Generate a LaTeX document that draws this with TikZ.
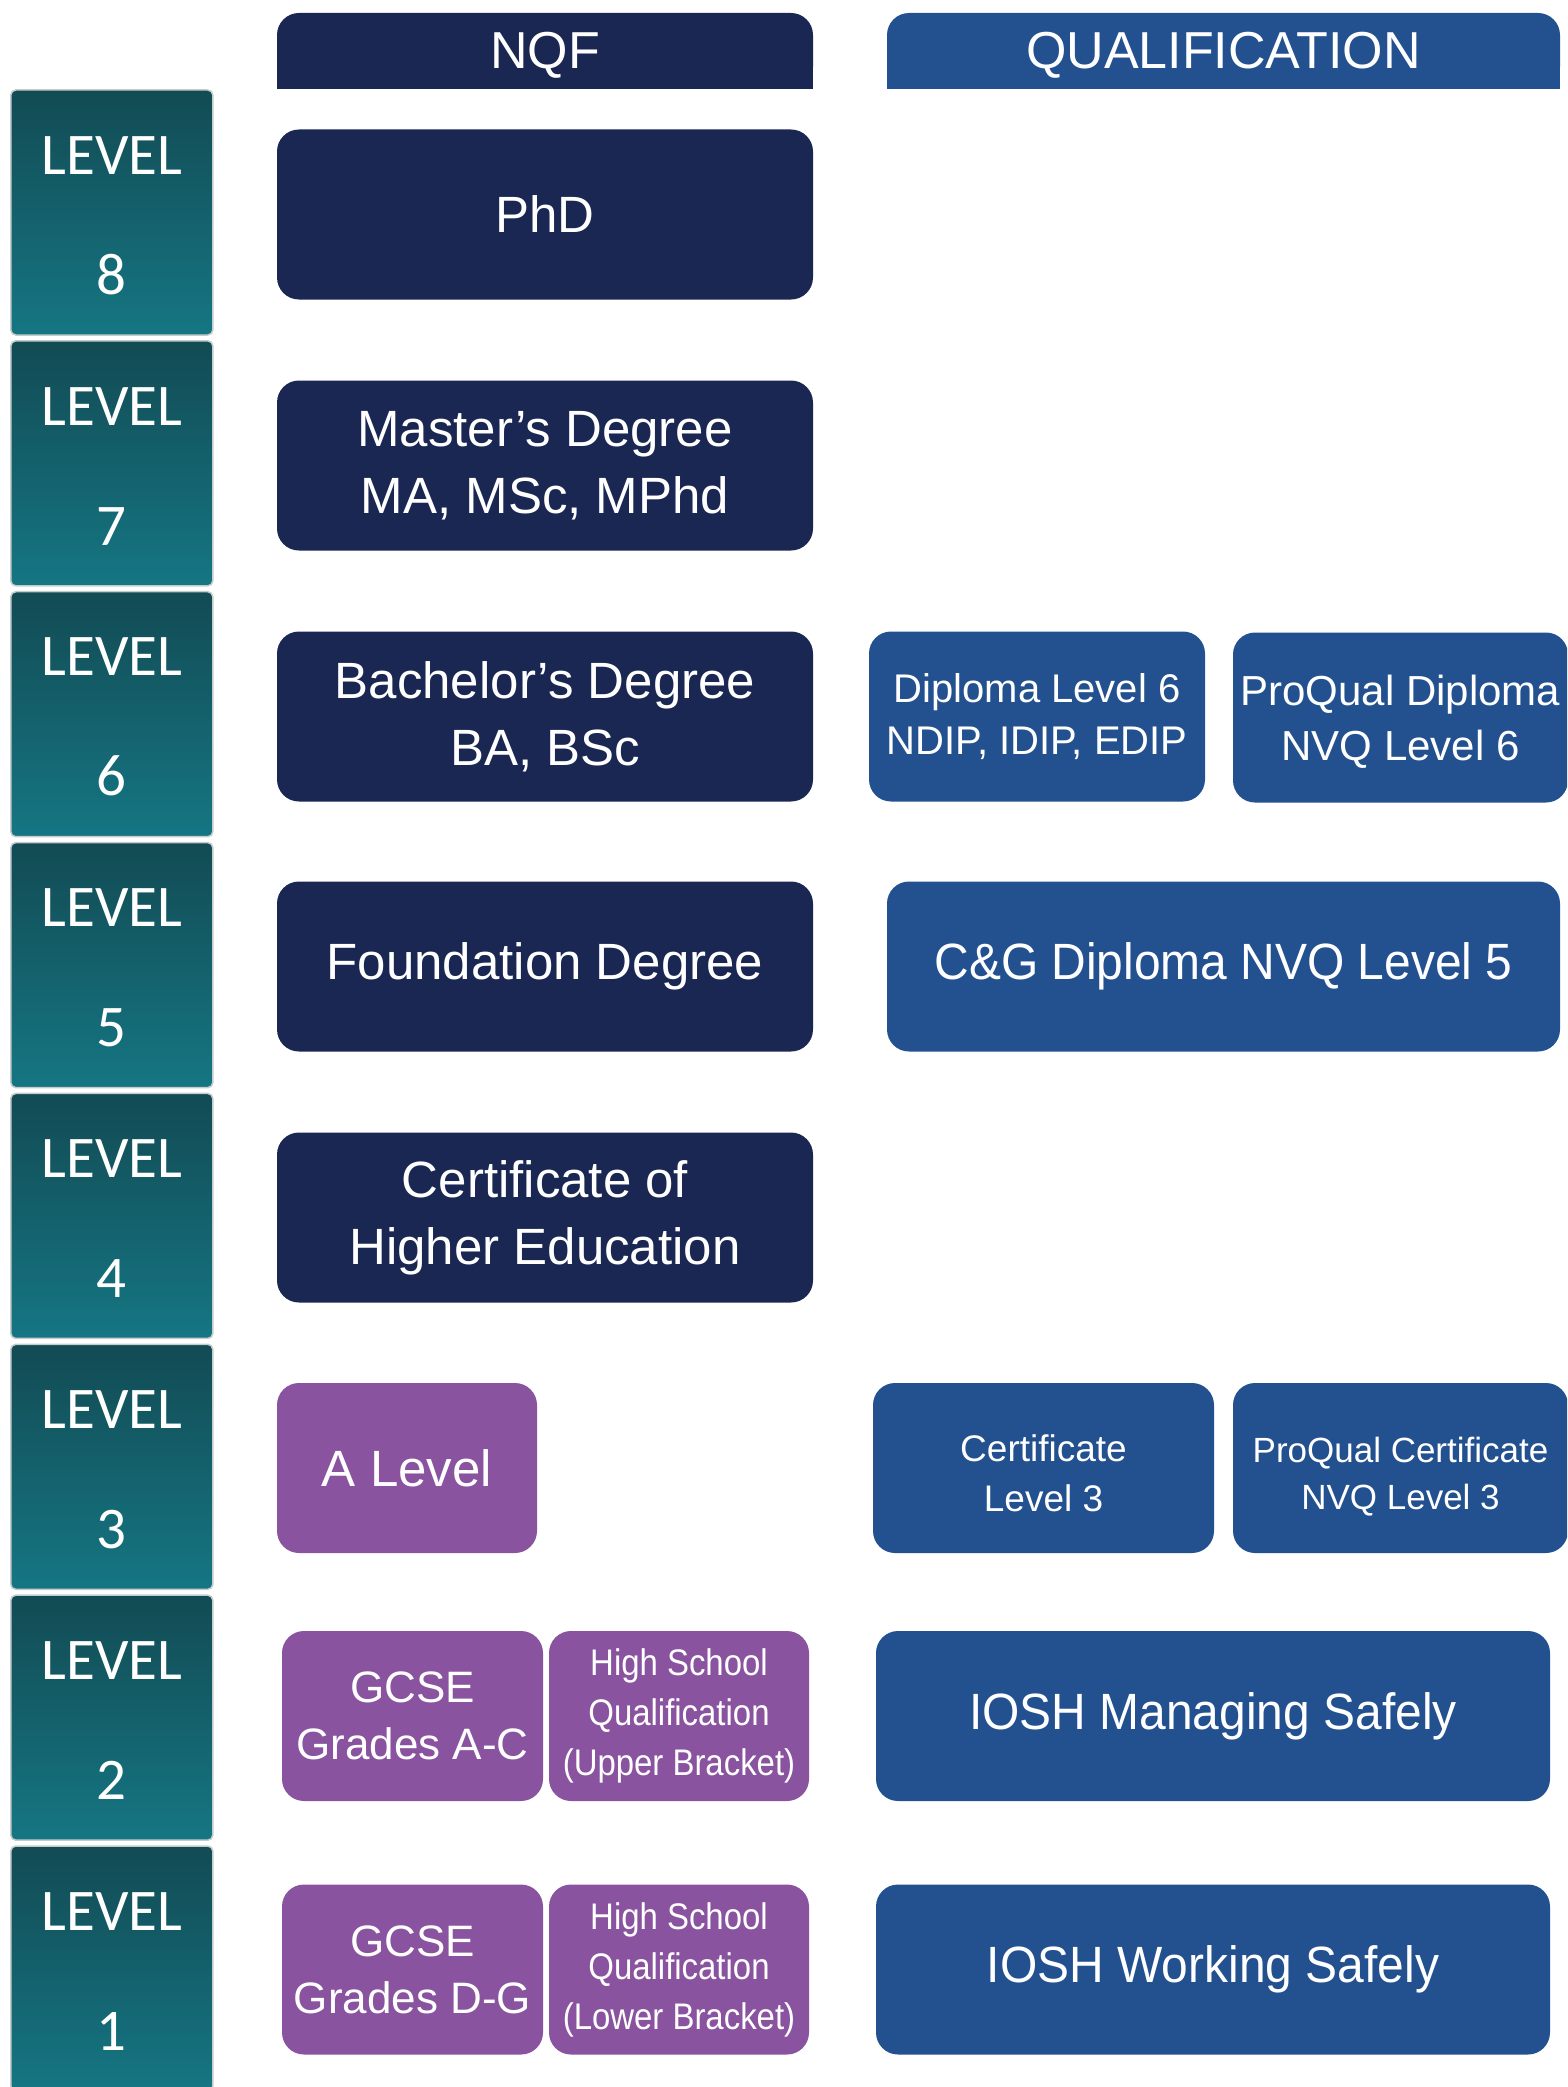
\documentclass[tikz,border=0pt]{standalone}
\usepackage{fontspec}
\setmainfont{Liberation Sans}
\newfontfamily\lvfont{Carlito}
\newfontfamily\narrowfont{Liberation Sans}[FakeStretch=0.94]
\newfontfamily\condfont{Liberation Sans}[FakeStretch=0.89]
\definecolor{navy}{HTML}{1B2753}
\definecolor{qblue}{HTML}{235190}
\definecolor{purp}{HTML}{8A53A0}
\definecolor{tealA}{HTML}{124B54}
\definecolor{tealB}{HTML}{157683}
\definecolor{lvborder}{HTML}{C4CCCC}
\tikzset{
  box/.style={rounded corners=22pt, text=white, inner sep=0pt, align=center, minimum height=170pt},
  nbox/.style={box, fill=navy, minimum width=536pt, font=\fontsize{51}{67}\selectfont},
  qbox/.style={box, fill=qblue},
  pbox/.style={box, fill=purp},
  lvl/.style={rounded corners=5pt, draw=lvborder, line width=1.5pt, top color=tealA, bottom color=tealB,
    minimum width=202pt, minimum height=245pt, inner sep=0pt, align=center, text=white,
    font=\lvfont\fontsize{59}{120}\selectfont},
  hdr/.style={text=white, inner sep=0pt, font=\fontsize{52}{60}\selectfont},
}
\begin{document}
\begin{tikzpicture}[x=1pt,y=-1pt]
\useasboundingbox (0,0) rectangle (1567,2087);
\clip (0,0) rectangle (1567,2087);
\fill[white] (0,0) rectangle (1567,2087);

% headers
\fill[navy, rounded corners=22pt] (277,13) rectangle (813,89);
\fill[navy] (277,50) rectangle (813,89);
\node[hdr] (nqf) at (545,55) {NQF};
\fill[qblue, rounded corners=22pt] (887,13) rectangle (1560,89);
\fill[qblue] (887,50) rectangle (1560,89);
\node[hdr] (qual) at (1223.5,55) {QUALIFICATION};

% level column
\foreach \n [count=\k from 0] in {8,7,6,5,4,3,2,1}{
  \node[lvl] (lv\n) at (111.8,{212.5+\k*250.86}) {};
  \node[text=white, inner sep=0pt, align=center, font=\lvfont\fontsize{59}{120}\selectfont]
    (lv\n t) at ([yshift=-3pt]lv\n.center) {LEVEL\\\n};
}

% NQF column
\node[nbox] (phd) at (545,214.5) {PhD};
\node[nbox] (masters) at (545,465.5) {Master’s Degree\\MA, MSc, MPhd};
\node[nbox] (bachelors) at (545,716.5) {Bachelor’s Degree\\BA, BSc};
\node[nbox] (foundation) at (545,966.5) {Foundation Degree};
\node[nbox] (certhe) at (545,1217.5) {Certificate of\\Higher Education};
\node[pbox, minimum width=260pt, font=\fontsize{51}{67}\selectfont] (alevel) at (407,1468) {A Level};
\node[pbox, minimum width=261pt, font=\fontsize{44}{57}\selectfont] (gcseac) at (412.5,1716) {GCSE\\Grades A-C};
\node[pbox, minimum width=260pt, font=\condfont\fontsize{37}{50}\selectfont] (hsupper) at (679,1716) {High School\\Qualification\\(Upper Bracket)};
\node[pbox, minimum width=261pt, font=\fontsize{44}{57}\selectfont] (gcsedg) at (412.5,1969.5) {GCSE\\Grades D-G};
\node[pbox, minimum width=260pt, font=\condfont\fontsize{37}{50}\selectfont] (hslower) at (679,1969.5) {High School\\Qualification\\(Lower Bracket)};

% qualification column
\node[qbox, minimum width=336pt, font=\fontsize{40}{52}\selectfont] (dip6) at (1037,716.5) {Diploma Level 6\\NDIP, IDIP, EDIP};
\node[qbox, minimum width=335pt, font=\fontsize{42}{55}\selectfont] (pqdip) at (1400.5,717.5) {};
\node[text=white, inner sep=0pt, align=center, font=\fontsize{42}{55}\selectfont] (pqdipt) at ([yshift=-4pt]pqdip.center) {ProQual Diploma\\NVQ Level 6};
\node[qbox, minimum width=673pt, font=\narrowfont\fontsize{51}{67}\selectfont] (cg) at (1223.5,966.5) {C\&G Diploma NVQ Level 5};
\node[qbox, minimum width=341pt] (cert3) at (1043.5,1468) {};
\node[text=white, inner sep=0pt, align=center, font=\fontsize{37}{50}\selectfont] (cert3t) at ([yshift=-5pt]cert3.center) {Certificate\\Level 3};
\node[qbox, minimum width=335pt] (pqcert) at (1400.5,1468) {};
\node[text=white, inner sep=0pt, align=center, font=\fontsize{35}{47}\selectfont] (pqcertt) at ([yshift=-9pt]pqcert.center) {ProQual Certificate\\NVQ Level 3};
\node[qbox, minimum width=674pt, font=\narrowfont\fontsize{51}{67}\selectfont] (ioshm) at (1213,1716) {IOSH Managing Safely};
\node[qbox, minimum width=674pt, font=\narrowfont\fontsize{51}{67}\selectfont] (ioshw) at (1213,1969.5) {IOSH Working Safely};
\end{tikzpicture}
\end{document}
